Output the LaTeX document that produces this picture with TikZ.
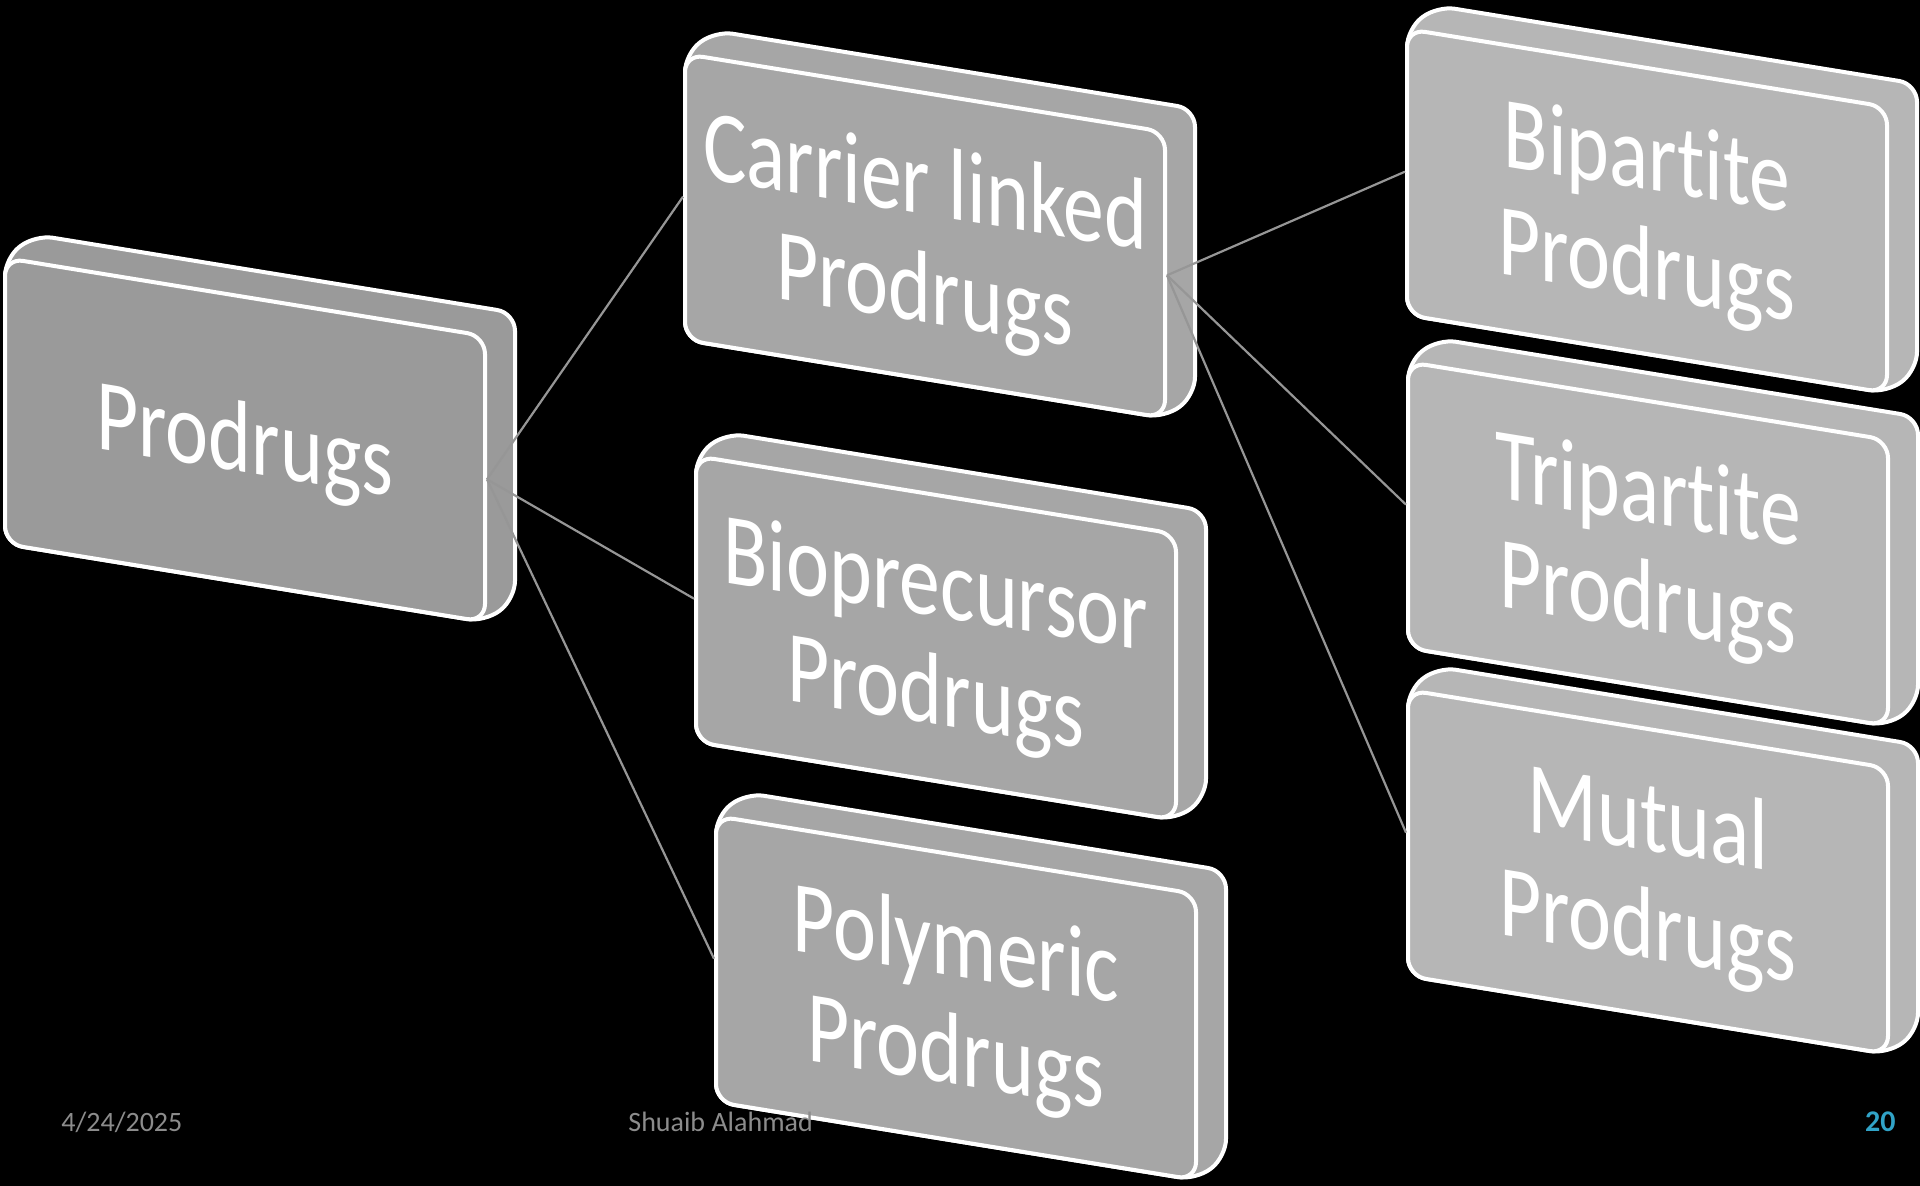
\documentclass[tikz,border=0pt]{standalone}
\usepackage{fontspec}
\setmainfont{Carlito}[Ligatures=NoCommon]
\usepackage{graphicx}

\definecolor{levelone}{RGB}{154,154,154}
\definecolor{leveltwo}{RGB}{166,166,166}
\definecolor{levelthree}{RGB}{182,182,182}
\definecolor{linkgray}{RGB}{150,150,150}
\definecolor{footgray}{RGB}{140,140,140}
\definecolor{pagenum}{RGB}{49,163,199}

\tikzset{
  edge/.style={draw=white, line width=2pt, rounded corners=9pt, line join=round},
  face/.style={draw=white, line width=2pt, rounded corners=9pt, rectangle,
    minimum width=240pt, minimum height=143pt, inner sep=0pt, transform shape},
  label/.style={transform shape, inner sep=0pt, text=white,
    font=\fontsize{51}{54}\selectfont},
  link/.style={draw=linkgray, line width=1.1pt},
  footer/.style={text=footgray, font=\fontsize{14}{16}\selectfont, inner sep=0pt}
}

% One extruded, sheared block: #1 name, #2/#3 top-left corner of the front face,
% #4 fill colour, #5 label (lines separated by \\)
\newcommand{\prodblock}[5]{%
  \begin{scope}[shift={(#2,#3)}, yslant=-0.1625]
    \draw[edge, fill=#4] (0,0) -- (30,-28) -- (510,-28) -- (510,258)
      -- (480,286) -- (0,286) -- cycle;
    \node[face, fill=#4] (#1) at (240,143) {};
    \node[label] (#1-t) at (240,154)
      {\scalebox{0.8}[1]{\begin{tabular}{@{}c@{}}#5\end{tabular}}};
  \end{scope}}

\begin{document}
\begin{tikzpicture}[x=0.5pt, y=-0.5pt]
  \fill[black] (0,0) rectangle (1920,1186);
  \useasboundingbox (0,0) rectangle (1920,1186);

  % root
  \prodblock{pro}{5}{258}{levelone}{Prodrugs}

  % second level
  \prodblock{car}{685}{54}{leveltwo}{Carrier linked\\Prodrugs}
  \prodblock{bio}{696}{456}{leveltwo}{Bioprecursor\\Prodrugs}
  \prodblock{pol}{716}{816}{leveltwo}{Polymeric\\Prodrugs}

  % third level
  \prodblock{bip}{1407}{29}{levelthree}{Bipartite\\Prodrugs}
  \prodblock{tri}{1408}{362}{levelthree}{Tripartite\\Prodrugs}
  \prodblock{mut}{1408}{690}{levelthree}{Mutual\\Prodrugs}

  % connectors
  \draw[link] (pro.east) -- (car.west);
  \draw[link] (pro.east) -- (bio.west);
  \draw[link] (pro.east) -- (pol.west);
  \draw[link] (car.east) -- (bip.west);
  \draw[link] (car.east) -- (tri.west);
  \draw[link] (car.east) -- (mut.west);

  % footer
  \node[footer, anchor=west] (date) at (61,1122) {4/24/2025};
  \node[footer, anchor=west] (author) at (628,1122) {Shuaib Alahmad};
  \node[anchor=east, inner sep=0pt, text=pagenum,
    font=\fontsize{15}{18}\selectfont\bfseries] (page) at (1896,1122) {20};
\end{tikzpicture}
\end{document}
